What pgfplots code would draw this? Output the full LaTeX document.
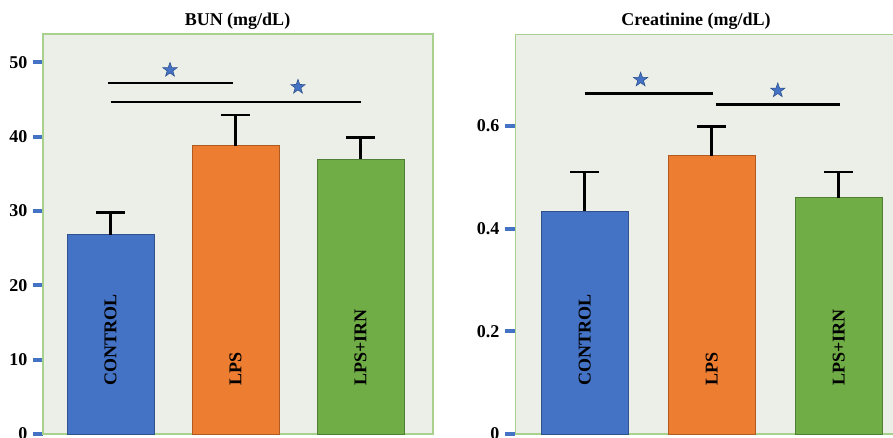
\documentclass[border=0pt]{standalone}
\usepackage{pgfplots}
\pgfplotsset{compat=1.18}
\usepackage{fontspec}
\setmainfont{Liberation Serif}
\definecolor{cblue}{HTML}{4472C4}
\definecolor{cblued}{HTML}{2F528F}
\definecolor{corange}{HTML}{ED7D31}
\definecolor{coranged}{HTML}{AE5A21}
\definecolor{cgreen}{HTML}{70AD47}
\definecolor{cgreend}{HTML}{507E32}
\definecolor{bg}{HTML}{EBEFE8}
\definecolor{frame}{HTML}{A9D18E}
\pgfdeclareplotmark{fstar}{%
  \pgfpathmoveto{\pgfpointpolar{90}{\pgfplotmarksize}}%
  \pgfpathlineto{\pgfpointpolar{126}{0.40\pgfplotmarksize}}%
  \pgfpathlineto{\pgfpointpolar{162}{\pgfplotmarksize}}%
  \pgfpathlineto{\pgfpointpolar{198}{0.40\pgfplotmarksize}}%
  \pgfpathlineto{\pgfpointpolar{234}{\pgfplotmarksize}}%
  \pgfpathlineto{\pgfpointpolar{270}{0.40\pgfplotmarksize}}%
  \pgfpathlineto{\pgfpointpolar{306}{\pgfplotmarksize}}%
  \pgfpathlineto{\pgfpointpolar{342}{0.40\pgfplotmarksize}}%
  \pgfpathlineto{\pgfpointpolar{18}{\pgfplotmarksize}}%
  \pgfpathlineto{\pgfpointpolar{54}{0.40\pgfplotmarksize}}%
  \pgfpathclose\pgfusepathqfillstroke}
\tikzset{
  lbl/.style={rotate=90, anchor=west, inner sep=0pt, font=\fontsize{18}{20}\selectfont\bfseries},
}
\pgfplotsset{
  myax/.style={
    scale only axis, height=400pt,
    anchor=south west,
    axis background/.style={fill=bg},
    axis line style={frame, line width=1.2pt},
    xtick=\empty,
    ytick pos=left,
    tick align=outside,
    major tick length=10pt,
    ytick style={draw=cblue, line width=4pt},
    yticklabel style={font=\fontsize{18}{20}\selectfont\bfseries, xshift=-2pt},
    /pgf/number format/assume math mode=true,
    ymin=0,
    ybar, bar width=87pt, bar shift=0pt,
    error bars/y dir=plus, error bars/y explicit,
    error bars/error mark=|,
    error bars/error bar style={black, line width=2.6pt},
    error bars/error mark options={black, line width=2.6pt, mark size=14.5pt},
  },
  sig/.style={black, line width=2.6pt, forget plot, sharp plot},
  st/.style={only marks, mark=fstar, mark size=7.5pt, mark options={fill=cblue, draw=cblued, line width=0.6pt}, forget plot},
}
\begin{document}
\begin{tikzpicture}
% BUN
\begin{axis}[myax, at={(43pt,3pt)}, width=390pt,
  xmin=-0.54, xmax=2.58, ymax=53.8,
  ytick={0,10,20,30,40,50}]
\addplot[fill=cblue, draw=cblued, line width=0.8pt] coordinates {(0,26.8) +- (0,3.0)};
\addplot[fill=corange, draw=coranged, line width=0.8pt] coordinates {(1,38.8) +- (0,4.1)};
\addplot[fill=cgreen, draw=cgreend, line width=0.8pt] coordinates {(2,37.0) +- (0,2.9)};
\addplot[sig] coordinates {(-0.02,47.2) (0.98,47.2)};
\addplot[sig] coordinates {(0,44.66) (2.0,44.66)};
\addplot[st] coordinates {(0.476,48.96) (1.5,46.68)};
\node[lbl] at (axis cs:0,6.46) {CONTROL};
\node[lbl] at (axis cs:1,6.46) {LPS};
\node[lbl] at (axis cs:2,6.46) {LPS+IRN};
\end{axis}
% Creatinine
\begin{axis}[myax, at={(515pt,3pt)}, width=380pt,
  axis line style={draw=none},
  xmin=-0.549, xmax=2.443, ymax=0.779,
  ytick={0,0.2,0.4,0.6}]
\draw[frame, line width=1.2pt] (rel axis cs:1,0) -- (rel axis cs:0,0) -- (rel axis cs:0,1) -- (rel axis cs:1,1);
\addplot[fill=cblue, draw=cblued, line width=0.8pt] coordinates {(0,0.434) +- (0,0.076)};
\addplot[fill=corange, draw=coranged, line width=0.8pt] coordinates {(1,0.542) +- (0,0.057)};
\addplot[fill=cgreen, draw=cgreend, line width=0.8pt] coordinates {(2,0.460) +- (0,0.050)};
\addplot[sig] coordinates {(0,0.663) (1.01,0.663)};
\addplot[sig] coordinates {(1.03,0.642) (2.01,0.642)};
\addplot[st] coordinates {(0.44,0.690) (1.52,0.669)};
\node[lbl] at (axis cs:0,0.0935) {CONTROL};
\node[lbl] at (axis cs:1,0.0935) {LPS};
\node[lbl] at (axis cs:2,0.0935) {LPS+IRN};
\end{axis}
\node[font=\fontsize{18}{20}\selectfont\bfseries] at (237.5pt,416pt) {BUN (mg/dL)};
\node[font=\fontsize{18}{20}\selectfont\bfseries] at (696pt,416pt) {Creatinine (mg/dL)};
\pgfresetboundingbox
\path[use as bounding box] (0pt,0pt) rectangle (893pt,437pt);
\end{tikzpicture}
\end{document}
